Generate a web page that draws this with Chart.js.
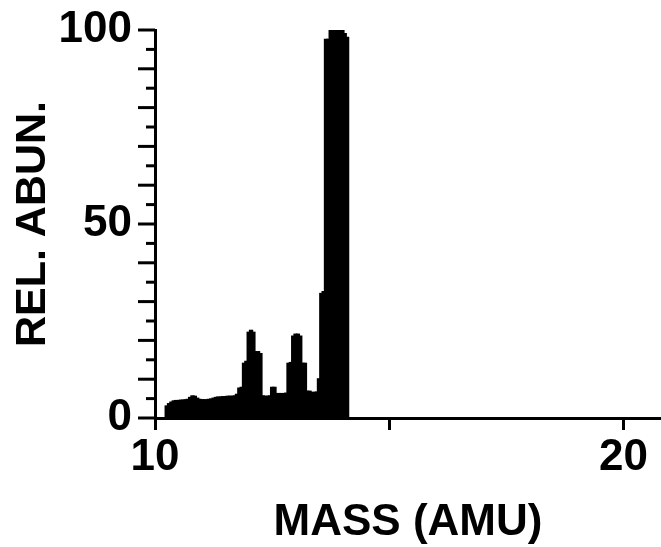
<!DOCTYPE html>
<html>
<head>
<meta charset="utf-8">
<script src="https://cdn.jsdelivr.net/npm/chart.js@4.4.1/dist/chart.umd.min.js"></script>
<style>
html, body { margin: 0; padding: 0; background: #fff; }
#wrap { width: 661px; height: 547px; }
</style>
</head>
<body>
<div id="wrap"><canvas id="myChart"></canvas></div>
<script>
// mass (AMU) of each trace slice and its relative abundance
const masses = [
    10.25, 10.30, 10.35, 10.40, 10.45, 10.50, 10.55, 10.60, 10.65, 10.70,
    10.75, 10.80, 10.85, 10.90, 10.95, 11.00, 11.05, 11.10, 11.15, 11.20,
    11.25, 11.30, 11.35, 11.40, 11.45, 11.50, 11.55, 11.60, 11.65, 11.70,
    11.75, 11.80, 11.85, 11.90, 11.95, 12.00, 12.05, 12.10, 12.15, 12.20,
    12.25, 12.30, 12.35, 12.40, 12.45, 12.50, 12.55, 12.60, 12.65, 12.70,
    12.75, 12.80, 12.85, 12.90, 12.95, 13.00, 13.05, 13.10, 13.15, 13.20,
    13.25, 13.30, 13.35, 13.40, 13.45, 13.50, 13.55, 13.60, 13.65, 13.70,
    13.75, 13.80, 13.85, 13.90, 13.95, 14.00, 14.05, 14.10
];
const abundances = [
    3.0, 3.6, 4.0, 4.3, 4.4, 4.4, 4.5, 4.5, 4.6, 4.7,
    5.2, 5.6, 5.5, 5.0, 4.7, 4.6, 4.6, 4.6, 4.7, 4.8,
    5.0, 5.2, 5.3, 5.3, 5.4, 5.4, 5.5, 5.5, 5.5, 5.6,
    6.0, 7.6, 7.8, 14.0, 14.5, 22.0, 22.5, 22.0, 17.0, 17.0,
    16.5, 5.6, 5.5, 5.5, 5.6, 7.8, 7.8, 6.2, 6.2, 6.2,
    6.2, 6.3, 14.0, 14.2, 21.0, 21.5, 21.5, 21.0, 14.0, 14.0,
    6.8, 6.8, 6.5, 6.5, 6.6, 10.0, 32.0, 32.5, 97.5, 97.5,
    100, 100, 100, 100, 100, 100, 99, 98
];
const xTickLabels = { 10: '10', 20: '20' };
const yTickLabels = { 0: '0', 50: '50', 100: '100' };

const FONT = "'Liberation Sans', Arial, sans-serif";

// long ticks every 10, short ones every 5
const yTicks = {
    id: 'yTicks',
    afterDraw(chart) {
        const y = chart.scales.y;
        const ctx = chart.ctx;
        ctx.save();
        ctx.strokeStyle = '#000';
        ctx.lineWidth = 3;
        y.ticks.forEach(t => {
            const py = y.getPixelForValue(t.value);
            const len = t.value % 10 === 0 ? 17 : 9;
            ctx.beginPath();
            ctx.moveTo(y.right - len, py);
            ctx.lineTo(y.right, py);
            ctx.stroke();
        });
        ctx.restore();
    }
};

const ctx = document.getElementById('myChart').getContext('2d');
new Chart(ctx, {
    type: 'bar',
    data: {
        datasets: [{
            data: masses.map((m, i) => ({ x: m, y: abundances[i] })),
            backgroundColor: '#000',
            borderWidth: 0,
            inflateAmount: 1,
            barPercentage: 1,
            categoryPercentage: 1
        }]
    },
    options: {
        responsive: true,
        maintainAspectRatio: false,
        animation: false,
        layout: { padding: { top: 30, right: 0, bottom: 0, left: 0 } },
        plugins: { legend: { display: false }, tooltip: { enabled: false } },
        scales: {
            x: {
                type: 'linear',
                min: 10,
                max: 20.8,
                offset: false,
                afterFit: s => { s.height = 129; },
                border: { color: '#000', width: 3 },
                grid: { drawOnChartArea: false, offset: false, tickLength: 12, tickWidth: 3, tickColor: '#000' },
                ticks: {
                    stepSize: 5,
                    includeBounds: false,
                    autoSkip: false,
                    maxRotation: 0,
                    padding: 6,
                    color: '#000',
                    font: { family: FONT, size: 44, weight: 'bold', lineHeight: 1 },
                    callback: v => xTickLabels[v] ?? ''
                },
                title: {
                    display: true,
                    text: 'MASS (AMU)',
                    color: '#000',
                    padding: { top: 0, bottom: 2 },
                    font: { family: FONT, size: 44, weight: 'bold', lineHeight: 1 }
                }
            },
            y: {
                min: 0,
                max: 100,
                afterFit: s => { s.width = 155; },
                border: { color: '#000', width: 3 },
                grid: { drawOnChartArea: false, tickLength: 17, tickColor: 'transparent' },
                ticks: {
                    stepSize: 5,
                    autoSkip: false,
                    padding: 6,
                    color: '#000',
                    font: { family: FONT, size: 44, weight: 'bold', lineHeight: 1 },
                    callback: v => yTickLabels[v] ?? ''
                },
                title: {
                    display: true,
                    text: 'REL. ABUN.',
                    color: '#000',
                    padding: { top: 12, bottom: 0 },
                    font: { family: FONT, size: 43, weight: 'bold', lineHeight: 1 }
                }
            }
        }
    },
    plugins: [yTicks]
});
</script>
</body>
</html>
